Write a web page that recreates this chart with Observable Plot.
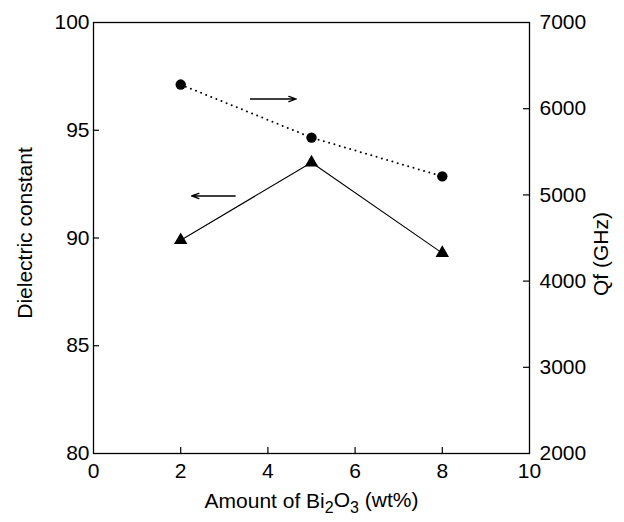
<!DOCTYPE html>
<html><head><meta charset="utf-8">
<script src="https://cdn.jsdelivr.net/npm/d3@7"></script>
<script src="https://cdn.jsdelivr.net/npm/@observablehq/plot@0.6"></script>
<style>body{margin:0;background:#fff}</style>
</head><body><div id="chart"></div>
<script>
// Data
const bi2o3 = [2, 5, 8];
const dielectric = [89.9, 93.5, 89.3];
const qf = [6280, 5665, 5215];
const xTicks = [0, 2, 4, 6, 8, 10];
const xInnerTicks = [2, 4, 6, 8];
const leftTicks = [80, 85, 90, 95, 100];
const leftInnerTicks = [85, 90, 95];
const rightTicks = [2000, 3000, 4000, 5000, 6000, 7000];
const rightInnerTicks = [3000, 4000, 5000, 6000];
// annotation arrows (x in wt%, y in dielectric units)
const arrowX1 = [3.6, 3.25];
const arrowX2 = [4.65, 2.25];
const arrowY = [96.45, 91.95];
const xTitle = "Amount of Bi2O3 (wt%)";
const leftTitle = "Dielectric constant";
const rightTitle = "Qf (GHz)";

const qfToY = v => 80 + (v - 2000) / 250;
const yToQf = y => Math.round(2000 + (y - 80) * 250);

const W = 624, H = 522, mL = 93, mR = 95, mT = 22, mB = 69;
const pw = W - mL - mR, ph = H - mT - mB;

const rowsD = bi2o3.map((x, i) => ({x, y: dielectric[i]}));
const rowsQ = bi2o3.map((x, i) => ({x, y: qfToY(qf[i])}));
const arrows = arrowX1.map((x1, i) => ({x1, x2: arrowX2[i], y: arrowY[i]}));

const FS = 21;
const chart = Plot.plot({
  width: W, height: H,
  marginLeft: mL, marginRight: mR, marginTop: mT, marginBottom: mB,
  x: {domain: [0, 10]},
  y: {domain: [80, 100]},
  style: {fontFamily: "'Liberation Sans', Arial, sans-serif", fontSize: FS + "px", color: "black", background: "white"},
  marks: [
    Plot.frame({stroke: "black", strokeWidth: 1.3}),
    Plot.tickX(xInnerTicks, {x: d => d, stroke: "black", strokeWidth: 1.2, insetTop: ph - 6}),
    Plot.tickY(leftInnerTicks, {y: d => d, stroke: "black", strokeWidth: 1.2, insetRight: pw - 6}),
    Plot.tickY(rightInnerTicks.map(qfToY), {y: d => d, stroke: "black", strokeWidth: 1.2, insetLeft: pw - 6}),
    Plot.axisX(xTicks, {tickSize: 0, tickPadding: 10, label: null, fontSize: FS}),
    Plot.axisY(leftTicks, {anchor: "left", tickSize: 0, tickPadding: 4, label: null, fontSize: FS}),
    Plot.axisY(rightTicks.map(qfToY), {anchor: "right", tickSize: 0, tickPadding: 10, label: null, fontSize: FS, tickFormat: d => String(yToQf(d))}),
    Plot.line(rowsD, {x: "x", y: "y", stroke: "black", strokeWidth: 1.1}),
    Plot.line(rowsQ, {x: "x", y: "y", stroke: "black", strokeWidth: 2, strokeDasharray: "0,5.5", strokeLinecap: "round"}),
    Plot.dot(rowsD, {x: "x", y: "y", symbol: "triangle", r: 5, fill: "black"}),
    Plot.dot(rowsQ, {x: "x", y: "y", r: 5.2, fill: "black"}),
    Plot.arrow(arrows, {x1: "x1", x2: "x2", y1: "y", y2: "y", stroke: "black", strokeWidth: 1.3, headLength: 9, headAngle: 40}),
    Plot.text([xTitle], {text: d => d, frameAnchor: "bottom", textAnchor: "middle", dy: 54, fontSize: FS}),
    Plot.text([leftTitle], {text: d => d, frameAnchor: "left", textAnchor: "middle", dx: -68, dy: -5, rotate: -90, fontSize: FS}),
    Plot.text([rightTitle], {text: d => d, frameAnchor: "right", textAnchor: "middle", dx: 72, dy: 16, rotate: -90, fontSize: FS})
  ]
});

// subscripts in the x title
d3.select(chart).selectAll("text").filter(function() { return this.textContent === xTitle; }).each(function() {
  const t = d3.select(this);
  t.text(null);
  const parts = [["Amount of Bi", false], ["2", true], ["O", false], ["3", true], [" (wt%)", false]];
  parts.forEach(([s, sub], i) => {
    const sp = t.append("tspan").text(s);
    if (sub) sp.attr("font-size", 16).attr("dy", "0.35em");
    else if (i > 0) sp.attr("dy", "-0.27em");
  });
});

document.getElementById("chart").appendChild(chart);
</script>
</body></html>
